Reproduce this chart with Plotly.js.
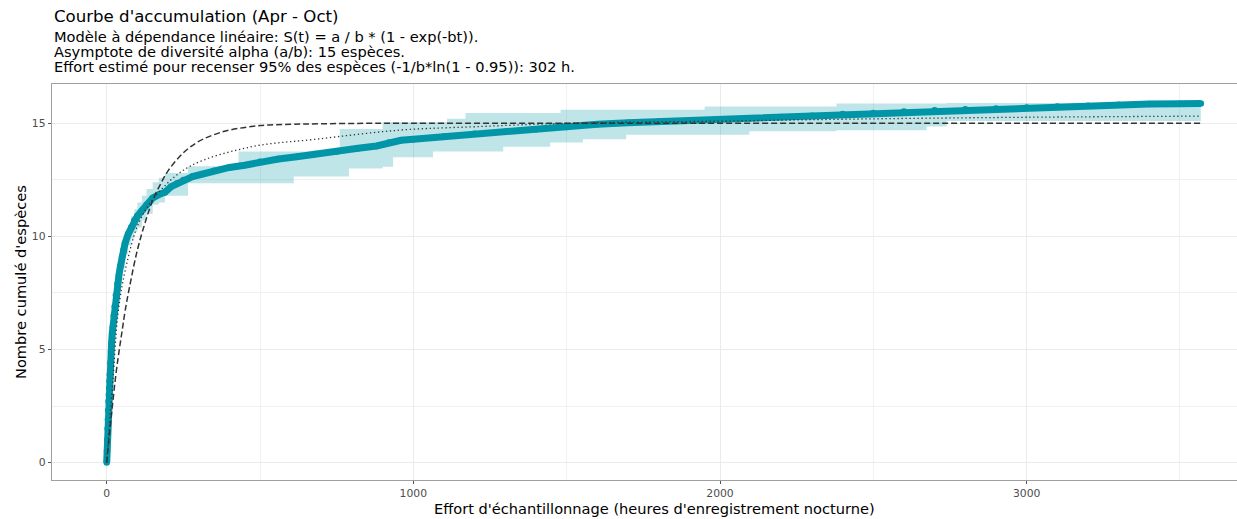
<!DOCTYPE html>
<html>
<head>
<meta charset="utf-8">
<script src="https://cdn.plot.ly/plotly-3.0.1.min.js"></script>
<style>html,body{margin:0;padding:0;background:#fff;}#chart{width:1237px;height:519px;}</style>
</head>
<body>
<div id="chart"></div>
<script>
// Observed accumulation curve (hours of nocturnal recording -> cumulative species)
const effortObs = [0,1,2,3,4,5,6,7,8,9,10,12,14,16,18,20,23,26,30,35,40,45,50,55,60,70,80,90,100,115,130,150,170,190,210,230,250,280,310,350,400,450,500,560,620,680,750,820,880,920,960,1000,1100,1200,1300,1400,1500,1600,1700,1800,1900,2000,2100,2200,2300,2400,2500,2600,2700,2800,2900,3000,3100,3200,3300,3400,3500,3568];
const speciesObs = [0,0.5,1.0,1.5,1.9,2.3,2.7,3.0,3.3,3.6,3.9,4.4,4.9,5.3,5.7,6.0,6.5,6.9,7.4,7.9,8.3,8.7,9.1,9.4,9.7,10.1,10.4,10.7,10.9,11.15,11.4,11.7,11.85,11.95,12.2,12.35,12.5,12.65,12.75,12.9,13.05,13.15,13.3,13.42,13.52,13.65,13.75,13.9,14.0,14.15,14.25,14.3,14.42,14.54,14.64,14.74,14.84,14.96,15.03,15.08,15.13,15.18,15.23,15.28,15.34,15.41,15.46,15.52,15.58,15.62,15.66,15.7,15.75,15.78,15.82,15.86,15.87,15.88];

// Confidence ribbon (step-wise)
const effortRib = [0,5,10,15,20,25,30,35,40,50,60,70,80,90,100,115,130,150,170,190,265,430,610,760,790,900,934,1064,1110,1170,1293,1446,1480,1553,1694,1950,2096,2380,2674,2739,3568];
const ribLower = [0,1.9,3.5,4.8,5.7,6.4,7.0,7.5,7.9,8.6,9.2,9.6,9.9,10.2,10.4,10.7,11.0,11.4,11.5,11.8,12.35,12.35,12.65,12.65,13.0,13.08,13.5,13.75,13.75,13.75,13.97,14.15,14.15,14.3,14.5,14.5,14.65,14.7,14.86,15.1,15.12];
const ribUpper = [0,2.6,4.3,5.5,6.4,7.1,7.8,8.3,8.7,9.5,10.1,10.5,10.9,11.2,11.5,11.8,12.1,12.4,12.6,12.8,13.1,13.75,13.75,14.75,14.75,15.05,15.05,15.05,15.2,15.46,15.46,15.46,15.6,15.6,15.6,15.75,15.75,15.88,15.88,15.9,15.95];

// Fitted linear-dependence model (dashed)
const effortModel = [0,10,20,30,40,50,60,75,100,125,150,175,200,250,300,350,400,500,600,700,850,1000,1500,2000,2500,3000,3568];
const speciesModel = [0,1.4,2.7,3.9,4.9,5.8,6.7,7.8,9.4,10.6,11.6,12.3,12.9,13.7,14.2,14.5,14.7,14.9,14.96,14.98,15.0,15.0,15.0,15.0,15.0,15.0,15.0];

// Second fitted model (dotted)
const effortModel2 = [0,10,20,37,62,108,173,271,467,684,956,1200,1500,2000,2500,3000,3568];
const speciesModel2 = [0,1.9,3.6,6.6,8.6,10.7,12.0,13.1,13.95,14.3,14.7,14.85,15.0,15.1,15.2,15.27,15.32];

const titleText = "Courbe d'accumulation (Apr - Oct)";
const subtitleLines = [
  "Modèle à dépendance linéaire: S(t) = a / b * (1 - exp(-bt)).",
  "Asymptote de diversité alpha (a/b): 15 espèces.",
  "Effort estimé pour recenser 95% des espèces (-1/b*ln(1 - 0.95)): 302 h."
];
const xTitle = "Effort d'échantillonnage (heures d'enregistrement nocturne)";
const yTitle = "Nombre cumulé d'espèces";
const xTickVals = [0,1000,2000,3000];
const yTickVals = [0,5,10,15];

const teal = 'rgb(0,150,168)';
const font = 'DejaVu Sans';

const traces = [
  {x: effortRib, y: ribLower, mode: 'lines', line: {width: 0, shape: 'hv'}, hoverinfo: 'skip', showlegend: false},
  {x: effortRib, y: ribUpper, mode: 'lines', fill: 'tonexty', fillcolor: 'rgba(0,150,168,0.25)', line: {width: 0, shape: 'hv'}, hoverinfo: 'skip', showlegend: false},
  {x: effortObs, y: speciesObs, mode: 'lines+markers', line: {color: teal, width: 7}, marker: {color: teal, size: 6.5}, showlegend: false},
  {x: effortModel2, y: speciesModel2, mode: 'lines', line: {color: '#333333', width: 1.3, dash: '1.3px,2.7px', shape: 'spline'}, showlegend: false},
  {x: effortModel, y: speciesModel, mode: 'lines', line: {color: '#333333', width: 1.5, dash: '6px,3px', shape: 'spline'}, showlegend: false}
];

const L = 52, R = 0, T = 84, B = 39, W = 1237, H = 519;
const plotH = H - T - B;
const py = p => (H - B - p) / plotH;
const px = p => (p - L) / (W - L - R);

const annotations = [
  {text: titleText, xref: 'paper', yref: 'paper', x: 0, y: py(16), xanchor: 'left', yanchor: 'middle', showarrow: false, font: {family: font, size: 16.6, color: '#000'}},
  {text: yTitle, xref: 'paper', yref: 'paper', x: px(20), y: 0.5, xanchor: 'center', yanchor: 'middle', textangle: -90, showarrow: false, font: {family: font, size: 14.6, color: '#000'}},
  {text: xTitle, xref: 'paper', yref: 'paper', x: px(654), y: py(508), xanchor: 'center', yanchor: 'middle', showarrow: false, font: {family: font, size: 14.6, color: '#000'}}
];
const subY = [37, 52, 67];
subtitleLines.forEach((s, i) => annotations.push({text: s, xref: 'paper', yref: 'paper', x: 0, y: py(subY[i]), xanchor: 'left', yanchor: 'middle', showarrow: false, font: {family: font, size: 14.6, color: '#000'}}));

const layout = {
  width: W, height: H,
  margin: {l: L, r: R, t: T, b: B, pad: 0},
  paper_bgcolor: '#fff', plot_bgcolor: '#fff',
  font: {family: font},
  xaxis: {
    range: [-178.4, 3686], tickvals: xTickVals, ticktext: xTickVals.map(String),
    showgrid: true, gridcolor: '#ebebeb', gridwidth: 1,
    minor: {dtick: 500, tick0: 0, showgrid: true, gridcolor: '#f1f1f1', gridwidth: 1},
    zeroline: false, showline: true, mirror: true, linecolor: '#a0a0a0', linewidth: 1.3,
    ticks: 'outside', ticklen: 3, tickcolor: '#555', tickwidth: 1,
    tickfont: {family: font, size: 10.8, color: '#4d4d4d'}
  },
  yaxis: {
    range: [-0.77, 16.74], tickvals: yTickVals, ticktext: yTickVals.map(String),
    showgrid: true, gridcolor: '#ebebeb', gridwidth: 1,
    minor: {dtick: 2.5, tick0: 0, showgrid: true, gridcolor: '#f1f1f1', gridwidth: 1},
    zeroline: false, showline: true, mirror: false, linecolor: '#a0a0a0', linewidth: 1.3,
    ticks: 'outside', ticklen: 3, tickcolor: '#555', tickwidth: 1,
    tickfont: {family: font, size: 10.8, color: '#4d4d4d'}
  },
  annotations: annotations
};

Plotly.newPlot('chart', traces, layout, {staticPlot: true, displayModeBar: false});
</script>
</body>
</html>
